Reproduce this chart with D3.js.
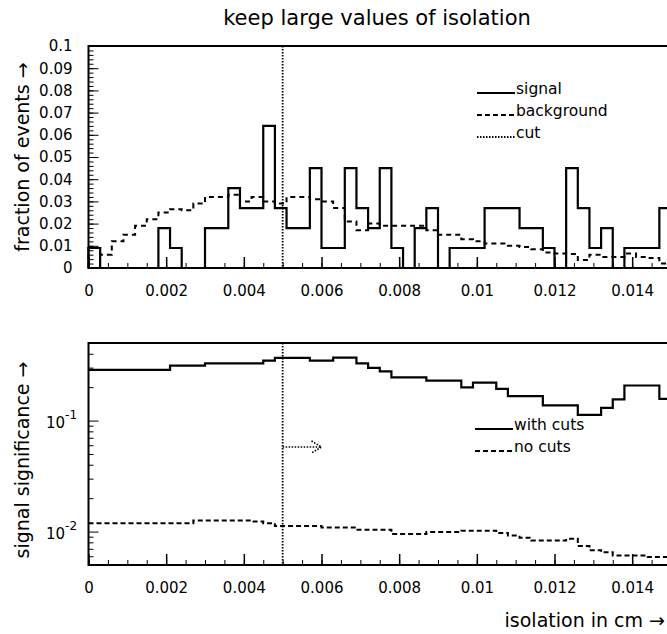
<!DOCTYPE html>
<html>
<head>
<meta charset="utf-8">
<script src="https://cdn.jsdelivr.net/npm/d3@7"></script>
<style>
  body { margin: 0; background: #fff; }
  svg { display: block; }
  text { font-family: "DejaVu Sans", sans-serif; fill: #000; }
</style>
</head>
<body>
<svg id="chart" width="667" height="634"></svg>
<script>
// histogram bins: 50 bins of 0.0003 cm from 0 to 0.015
var binWidth = 0.0003;
var nBins = 50;
var cutValue = 0.005;

// top panel: fraction of events per bin
var signal = [0.009, 0, 0, 0, 0, 0, 0.018, 0.009, 0, 0,
  0.018, 0.018, 0.036, 0.027, 0.027, 0.064, 0.027, 0.018, 0.018, 0.045,
  0.009, 0.009, 0.045, 0.027, 0.018, 0.045, 0.009, 0, 0.018, 0.027,
  0, 0.009, 0.009, 0.009, 0.027, 0.027, 0.027, 0.018, 0.018, 0.009,
  0, 0.045, 0.027, 0.009, 0.018, 0, 0.009, 0.009, 0.009, 0.027];

var background = [0.009, 0.006, 0.012, 0.015, 0.019, 0.022, 0.025, 0.0265, 0.026, 0.029,
  0.032, 0.032, 0.033, 0.030, 0.032, 0.030, 0.029, 0.032, 0.032, 0.031,
  0.030, 0.027, 0.021, 0.017, 0.020, 0.019, 0.019, 0.019, 0.019, 0.017,
  0.015, 0.015, 0.013, 0.012, 0.011, 0.011, 0.010, 0.0095, 0.0085, 0.007,
  0.0065, 0.0063, 0.0036, 0.006, 0.005, 0.005, 0.0065, 0.005, 0.0045, 0.002];

// bottom panel: signal significance vs cut position
var withCuts = [0.286, 0.286, 0.286, 0.286, 0.286, 0.286, 0.286, 0.313, 0.313, 0.313,
  0.328, 0.328, 0.328, 0.328, 0.328, 0.347, 0.367, 0.367, 0.367, 0.347,
  0.347, 0.369, 0.369, 0.328, 0.298, 0.278, 0.245, 0.245, 0.245, 0.229,
  0.229, 0.229, 0.1995, 0.22, 0.22, 0.193, 0.166, 0.166, 0.166, 0.137,
  0.137, 0.137, 0.1125, 0.1125, 0.130, 0.155, 0.207, 0.207, 0.207, 0.157];

var noCuts = [0.0119, 0.0119, 0.0119, 0.0119, 0.0119, 0.0119, 0.0119, 0.0119, 0.0119, 0.0126,
  0.0126, 0.0126, 0.0126, 0.0126, 0.0123, 0.0119, 0.0112, 0.0112, 0.0112, 0.0112,
  0.0109, 0.0109, 0.0109, 0.0104, 0.0104, 0.0104, 0.0095, 0.0095, 0.0095, 0.0099,
  0.0099, 0.0099, 0.0102, 0.0102, 0.0102, 0.0097, 0.0092, 0.0088, 0.0083, 0.0083,
  0.0083, 0.0086, 0.0074, 0.0068, 0.0065, 0.0061, 0.0061, 0.0061, 0.0059, 0.0059];

var xTicks = [0, 0.002, 0.004, 0.006, 0.008, 0.01, 0.012, 0.014];
var xTickLabels = ['0', '0.002', '0.004', '0.006', '0.008', '0.01', '0.012', '0.014'];
var yTopTicks = [0, 0.01, 0.02, 0.03, 0.04, 0.05, 0.06, 0.07, 0.08, 0.09, 0.1];
var yTopLabels = ['0', '0.01', '0.02', '0.03', '0.04', '0.05', '0.06', '0.07', '0.08', '0.09', '0.1'];
var yLogTicks = [0.01, 0.1];
var yLogExponents = ['-2', '-1'];

var topLegend = ['signal', 'background', 'cut'];
var bottomLegend = ['with cuts', 'no cuts'];

var svg = d3.select('#chart');
var left = 88.5, right = 671;
var topPanel = { y0: 46, y1: 268 };
var botPanel = { y0: 343, y1: 565 };

var x = d3.scaleLinear().domain([0, binWidth * nBins]).range([left, right]);
var yTop = d3.scaleLinear().domain([0, 0.1]).range([topPanel.y1, topPanel.y0]);
var yBot = d3.scaleLog().domain([0.005, 0.5]).range([botPanel.y1, botPanel.y0]);

function edges (vals) {
  // step points: start of each bin, plus the closing edge
  var pts = vals.map(function (v, i) { return [i * binWidth, v]; });
  pts.push([nBins * binWidth, vals[vals.length - 1]]);
  return pts;
}

function histPoints (vals) {
  var pts = [[0, 0]].concat(edges(vals));
  pts.push([nBins * binWidth, 0]);
  return pts;
}

function drawFrame (p) {
  svg.append('rect')
    .attr('x', left).attr('y', p.y0)
    .attr('width', right - left).attr('height', p.y1 - p.y0)
    .attr('fill', 'none').attr('stroke', '#000').attr('stroke-width', 2);
}

function xAxes (p) {
  var minor = d3.range(0, 0.0151, 0.0005);
  svg.append('g')
    .attr('transform', 'translate(0,' + p.y1 + ')')
    .call(d3.axisBottom(x).tickValues(minor).tickSize(-5).tickFormat(''))
    .call(function (g) { g.select('.domain').remove(); });
  var ax = svg.append('g')
    .attr('transform', 'translate(0,' + p.y1 + ')')
    .call(d3.axisBottom(x).tickValues(xTicks).tickSize(-11).tickPadding(17)
      .tickFormat(function (d, i) { return xTickLabels[i]; }));
  ax.select('.domain').remove();
  ax.selectAll('line').attr('stroke-width', 1.5);
  ax.selectAll('text').attr('font-size', 15).attr('font-family', 'DejaVu Sans');
  svg.selectAll('.tick line').attr('stroke', '#000');
}

// title
svg.append('text')
  .attr('x', 377).attr('y', 25)
  .attr('text-anchor', 'middle')
  .attr('font-size', 21)
  .text('keep large values of isolation');

// ---------- top panel ----------
drawFrame(topPanel);

var yMinor = d3.range(0, 0.1001, 0.002);
svg.append('g')
  .attr('transform', 'translate(' + left + ',0)')
  .call(d3.axisLeft(yTop).tickValues(yMinor).tickSize(-5).tickFormat(''))
  .call(function (g) { g.select('.domain').remove(); });
var yAx = svg.append('g')
  .attr('transform', 'translate(' + left + ',0)')
  .call(d3.axisLeft(yTop).tickValues(yTopTicks).tickSize(-10).tickPadding(16)
    .tickFormat(function (d, i) { return yTopLabels[i]; }));
yAx.select('.domain').remove();
yAx.selectAll('text').attr('font-size', 15).attr('font-family', 'DejaVu Sans');

xAxes(topPanel);

var lineTop = d3.line()
  .x(function (d) { return x(d[0]); })
  .y(function (d) { return yTop(d[1]); })
  .curve(d3.curveStepAfter);

svg.append('path')
  .attr('d', lineTop(histPoints(background)))
  .attr('fill', 'none').attr('stroke', '#000')
  .attr('stroke-width', 2).attr('stroke-dasharray', '5,4');

svg.append('path')
  .attr('d', lineTop(histPoints(signal)))
  .attr('fill', 'none').attr('stroke', '#000')
  .attr('stroke-width', 2.2);

svg.append('line')
  .attr('x1', x(cutValue)).attr('x2', x(cutValue))
  .attr('y1', topPanel.y0).attr('y2', topPanel.y1)
  .attr('stroke', '#000').attr('stroke-width', 1.8)
  .attr('stroke-dasharray', '1.5,1.5');

// top legend
var legTop = svg.append('g');
var topDash = ['none', '5,3', '1.5,1.5'];
topLegend.forEach(function (name, i) {
  var yy = 93 + i * 22;
  legTop.append('line')
    .attr('x1', 477).attr('x2', 515)
    .attr('y1', yy).attr('y2', yy)
    .attr('stroke', '#000').attr('stroke-width', 1.8)
    .attr('stroke-dasharray', topDash[i]);
  legTop.append('text')
    .attr('x', 516).attr('y', yy + 1)
    .attr('font-size', 15.5)
    .text(name);
});

// y label top
svg.append('text')
  .attr('transform', 'translate(29,' + ((topPanel.y0 + topPanel.y1) / 2) + ') rotate(-90)')
  .attr('text-anchor', 'middle')
  .attr('font-size', 19)
  .text('fraction of events \u2192');

// ---------- bottom panel ----------
drawFrame(botPanel);

var logMinor = [];
[0.001, 0.01, 0.1].forEach(function (dec) {
  for (var k = 2; k <= 9; k++) {
    var v = dec * k;
    if (v >= 0.005 && v <= 0.5) logMinor.push(v);
  }
});
svg.append('g')
  .attr('transform', 'translate(' + left + ',0)')
  .call(d3.axisLeft(yBot).tickValues(logMinor).tickSize(-5).tickFormat(''))
  .call(function (g) { g.select('.domain').remove(); });
var yLog = svg.append('g')
  .attr('transform', 'translate(' + left + ',0)')
  .call(d3.axisLeft(yBot).tickValues(yLogTicks).tickSize(-10).tickFormat(''));
yLog.select('.domain').remove();

yLogTicks.forEach(function (v, i) {
  var t = svg.append('text')
    .attr('x', 46).attr('y', yBot(v) + 7)
    .attr('font-size', 15);
  t.append('tspan').text('10');
  t.append('tspan')
    .attr('dy', -9).attr('font-size', 12)
    .text(yLogExponents[i]);
});

xAxes(botPanel);

var lineBot = d3.line()
  .x(function (d) { return x(d[0]); })
  .y(function (d) { return yBot(d[1]); })
  .curve(d3.curveStepAfter);

svg.append('path')
  .attr('d', lineBot(edges(noCuts)))
  .attr('fill', 'none').attr('stroke', '#000')
  .attr('stroke-width', 2).attr('stroke-dasharray', '5,3');

svg.append('path')
  .attr('d', lineBot(edges(withCuts)))
  .attr('fill', 'none').attr('stroke', '#000')
  .attr('stroke-width', 2.2);

svg.append('line')
  .attr('x1', x(cutValue)).attr('x2', x(cutValue))
  .attr('y1', botPanel.y0).attr('y2', botPanel.y1)
  .attr('stroke', '#000').attr('stroke-width', 1.8)
  .attr('stroke-dasharray', '1.5,1.5');

// arrow pointing to kept region
var arrowY = 447;
var arrowEnd = x(cutValue + 0.001);
var arrow = svg.append('g')
  .attr('stroke', '#000').attr('stroke-width', 1.6)
  .attr('stroke-dasharray', '1.5,1.5').attr('fill', 'none');
arrow.append('line')
  .attr('x1', x(cutValue)).attr('x2', arrowEnd)
  .attr('y1', arrowY).attr('y2', arrowY);
arrow.append('path')
  .attr('d', 'M' + (arrowEnd - 10) + ',' + (arrowY - 6) + 'L' + arrowEnd + ',' + arrowY +
    'L' + (arrowEnd - 10) + ',' + (arrowY + 6));

// bottom legend
var botDash = ['none', '5,3'];
bottomLegend.forEach(function (name, i) {
  var yy = 429 + i * 22;
  svg.append('line')
    .attr('x1', 475).attr('x2', 513)
    .attr('y1', yy).attr('y2', yy)
    .attr('stroke', '#000').attr('stroke-width', 1.8)
    .attr('stroke-dasharray', botDash[i]);
  svg.append('text')
    .attr('x', 514).attr('y', yy + 1)
    .attr('font-size', 15.5)
    .text(name);
});

svg.append('text')
  .attr('transform', 'translate(29,' + ((botPanel.y0 + botPanel.y1) / 2 + 6) + ') rotate(-90)')
  .attr('text-anchor', 'middle')
  .attr('font-size', 19)
  .text('signal significance \u2192');

svg.append('text')
  .attr('x', 665).attr('y', 627)
  .attr('text-anchor', 'end')
  .attr('font-size', 19)
  .text('isolation in cm \u2192');
</script>
</body>
</html>
